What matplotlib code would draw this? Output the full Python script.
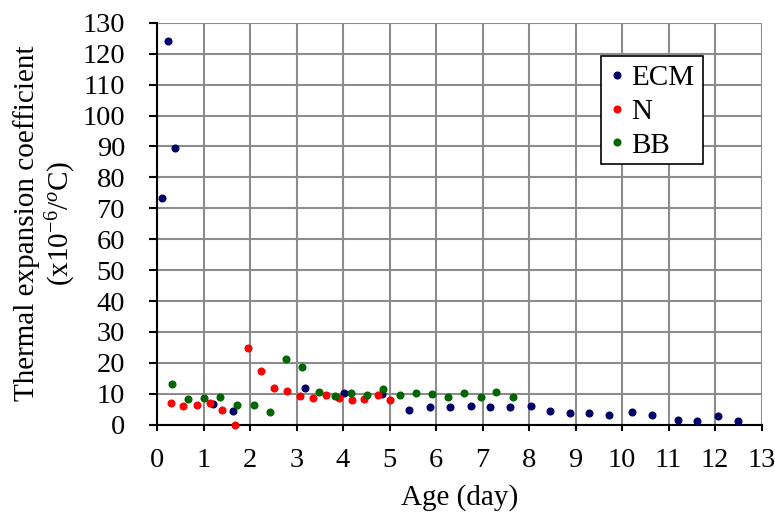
import matplotlib
matplotlib.use('Agg')
import matplotlib.pyplot as plt
from matplotlib.patches import Rectangle

plt.rcParams['font.family'] = ['Liberation Serif', 'DejaVu Serif']
plt.rcParams['mathtext.fontset'] = 'custom'
plt.rcParams['mathtext.rm'] = 'Liberation Serif'
plt.rcParams['mathtext.it'] = 'Liberation Serif:italic'

# ECM series
ecm_x = [0.11, 0.24, 0.38, 1.20, 1.63, 3.18, 4.02, 4.83, 5.42, 5.88, 6.31, 6.76,
         7.17, 7.60, 8.04, 8.46, 8.88, 9.30, 9.72, 10.21, 10.64, 11.20, 11.62, 12.07, 12.50]
ecm_y = [73.4, 124.0, 89.6, 6.8, 4.4, 11.8, 10.1, 10.0, 4.7, 5.6, 5.7, 6.2,
         5.6, 5.7, 5.9, 4.4, 3.8, 3.9, 3.2, 4.2, 3.1, 1.4, 1.2, 2.9, 1.1]
# N series
n_x = [0.29, 0.56, 0.85, 1.13, 1.40, 1.68, 1.96, 2.24, 2.52, 2.80, 3.08, 3.35,
       3.63, 3.91, 4.19, 4.46, 4.75, 5.02]
n_y = [7.1, 6.1, 6.3, 6.9, 4.8, 0.0, 24.9, 17.4, 12.0, 11.0, 9.3, 8.8,
       9.5, 8.8, 8.0, 8.2, 9.5, 8.0]
# BB series
bb_x = [0.32, 0.67, 1.01, 1.35, 1.73, 2.08, 2.43, 2.77, 3.12, 3.48, 3.82, 4.17,
        4.52, 4.86, 5.22, 5.56, 5.91, 6.26, 6.61, 6.96, 7.30, 7.65]
bb_y = [13.2, 8.4, 8.5, 9.1, 6.4, 6.5, 4.2, 21.2, 18.8, 10.5, 9.4, 10.4,
        9.5, 11.4, 9.6, 10.4, 9.8, 8.9, 10.4, 8.9, 10.5, 8.9]

x_ticks = list(range(0, 14))
y_ticks = list(range(0, 131, 10))

fig = plt.figure(figsize=(7.75, 5.17), dpi=100)
ax = fig.add_axes([0.2026, 0.1785, 0.7800, 0.7775])

ax.plot(ecm_x, ecm_y, 'o', color='#000066', ms=4.8, label='ECM', clip_on=False, zorder=3)
ax.plot(n_x, n_y, 'o', color='#ff0000', ms=4.8, label='N', clip_on=False, zorder=3)
ax.plot(bb_x, bb_y, 'o', color='#006600', ms=4.8, label='BB', clip_on=False, zorder=3)

ax.set_xlim(0, 13)
ax.set_ylim(0, 130)
ax.set_xticks(x_ticks)
ax.set_yticks(y_ticks)
ax.grid(True, color='#8c8c8c', linewidth=1.5)
ax.set_axisbelow(True)

ax.spines['top'].set_visible(False)
ax.spines['right'].set_visible(False)
ax.spines['left'].set_linewidth(1.5)
ax.spines['bottom'].set_linewidth(1.5)
ax.tick_params(axis='y', direction='out', length=6, width=1.5, labelsize=20.5, pad=17)
ax.tick_params(axis='x', direction='out', length=4, width=1.5, labelsize=20.5, pad=13)

ax.set_xlabel('Age (day)', fontsize=21, labelpad=8)
ax.set_ylabel('Thermal expansion coefficient\n(x10$^{-6}$/$^{o}$C)', fontsize=21,
              linespacing=1.15, labelpad=3)

# legend box drawn by hand, legend itself without frame
box = Rectangle((0.734, 0.6485), 0.169, 0.2685, transform=ax.transAxes,
                facecolor='white', edgecolor='black', linewidth=1.2,
                clip_on=False, zorder=4)
ax.add_patch(box)
leg = ax.legend(loc='upper left', bbox_to_anchor=(0.734, 0.917), borderaxespad=0,
                fontsize=21, markerscale=1.0, handletextpad=0.25, handlelength=0.5,
                labelspacing=0.25, borderpad=0.3, frameon=False)
leg.set_zorder(5)

fig.savefig('out.png', dpi=100)
